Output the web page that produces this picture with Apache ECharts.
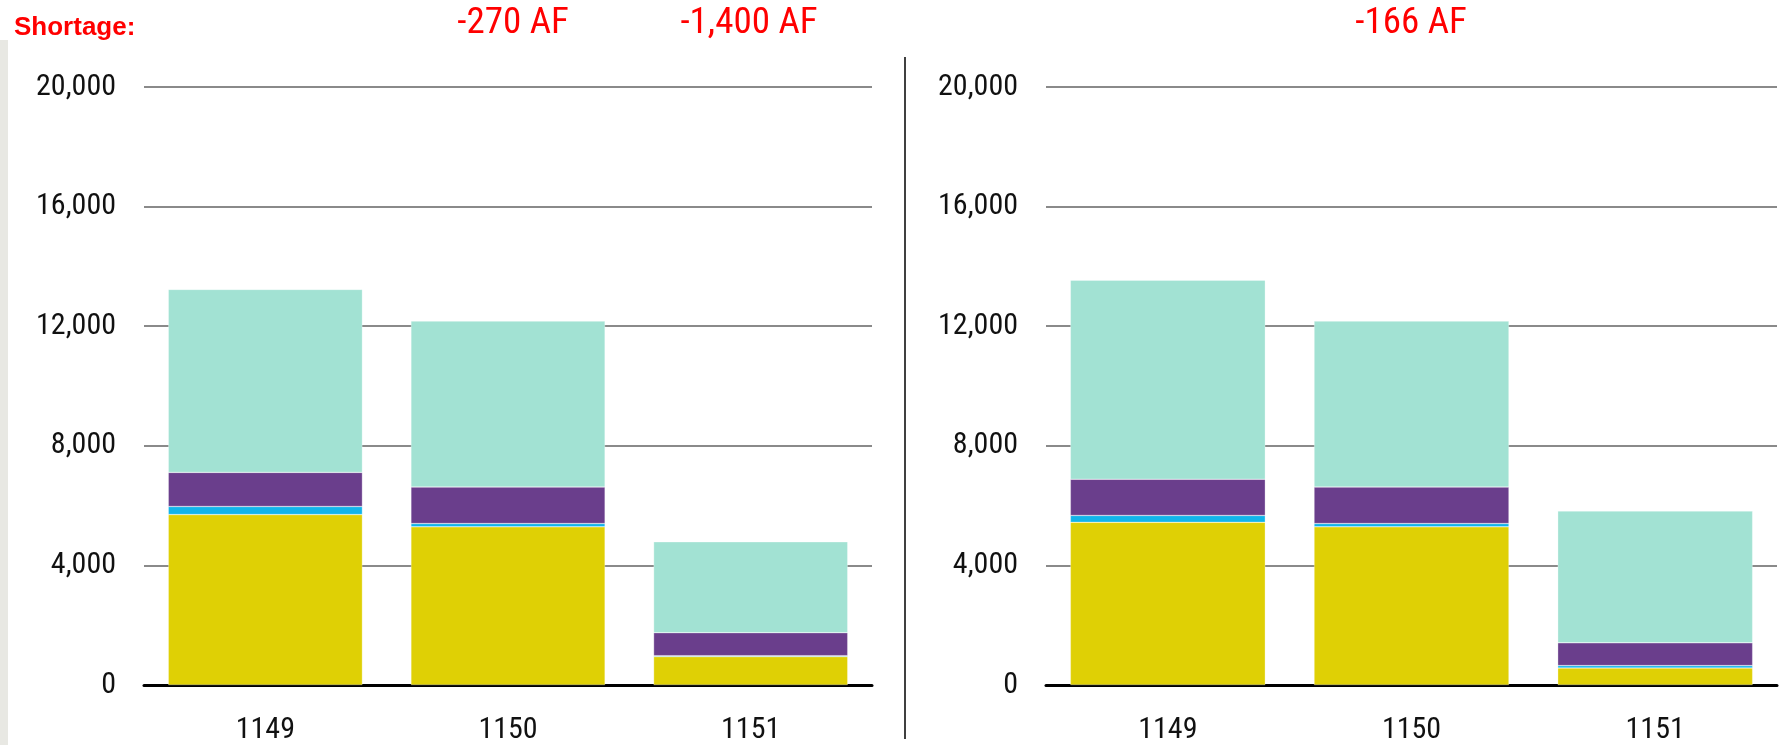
<!DOCTYPE html>
<html><head><meta charset="utf-8">
<script src="https://cdn.jsdelivr.net/npm/echarts@6/dist/echarts.min.js"></script>
<style>html,body{margin:0;padding:0;background:#fff}#c{width:1790px;height:745px}</style>
</head><body><div id="c"></div>
<script>
const categories = ['1149', '1150', '1151'];
const yTicks = [0, 4000, 8000, 12000, 16000, 20000];
// Left panel
const leftYellow = [5700, 5290, 950];
const leftBlue   = [270, 110, 30];
const leftPurple = [1140, 1220, 770];
const leftTeal   = [6120, 5550, 3040];
// Right panel
const rightYellow = [5440, 5290, 570];
const rightBlue   = [230, 110, 80];
const rightPurple = [1210, 1220, 760];
const rightTeal   = [6660, 5550, 4410];
const shortageLabels = ['-270 AF', '-1,400 AF', '-166 AF'];

const colors = {yellow:'#DFD005', blue:'#12B4EA', purple:'#6A3E8C', teal:'#A2E2D3'};
const font = '"Liberation Sans Narrow", "Roboto Condensed", "DejaVu Sans Condensed", sans-serif';

const chart = echarts.init(document.getElementById('c'));
function yAxis(gi){
  return {type:'value', gridIndex:gi, min:0, max:20000, interval:4000,
    axisLabel:{fontFamily:font, fontSize:30, color:'#111', margin:28,
      formatter:v=>v.toLocaleString('en-US')},
    axisLine:{show:false}, axisTick:{show:false},
    splitLine:{lineStyle:{color:'#8a8a8a', width:2}}};
}
function xAxis(gi){
  return {type:'category', gridIndex:gi, data:categories,
    axisLine:{lineStyle:{color:'#000', width:3}}, axisTick:{show:false},
    axisLabel:{fontFamily:font, fontSize:30, color:'#111', margin:30}};
}
function bar(name, data, color, gi){
  return {type:'bar', name, data, stack:'s'+gi, xAxisIndex:gi, yAxisIndex:gi,
    barWidth:'80%', itemStyle:{color, borderColor:'rgba(255,255,255,0.6)', borderWidth:0.5}};
}
chart.setOption({
  animation:false,
  title:[
    {text:'Shortage:', left:9, top:10, textStyle:{color:'#ff0000', fontSize:26, fontWeight:'bold', fontFamily:'Liberation Sans, Arial, sans-serif'}},
    {text:shortageLabels[0], left:508, top:0, textAlign:'center', textStyle:{color:'#ff0000', fontSize:37, fontWeight:'normal', fontFamily:font}},
    {text:shortageLabels[1], left:744, top:0, textAlign:'center', textStyle:{color:'#ff0000', fontSize:37, fontWeight:'normal', fontFamily:font}},
    {text:shortageLabels[2], left:1406, top:0, textAlign:'center', textStyle:{color:'#ff0000', fontSize:37, fontWeight:'normal', fontFamily:font}}
  ],
  grid:[
    {left:144, right:918, top:87, bottom:56},
    {left:1046, right:13, top:87, bottom:56}
  ],
  xAxis:[xAxis(0), xAxis(1)],
  yAxis:[yAxis(0), yAxis(1)],
  series:[
    bar('yellow', leftYellow, colors.yellow, 0),
    bar('blue', leftBlue, colors.blue, 0),
    bar('purple', leftPurple, colors.purple, 0),
    bar('teal', leftTeal, colors.teal, 0),
    bar('yellow', rightYellow, colors.yellow, 1),
    bar('blue', rightBlue, colors.blue, 1),
    bar('purple', rightPurple, colors.purple, 1),
    bar('teal', rightTeal, colors.teal, 1)
  ],
  graphic:[
    {type:'rect', shape:{x:0, y:40, width:8, height:705}, style:{fill:'#e8e8e3'}, silent:true},
    {type:'line', shape:{x1:905, y1:57, x2:905, y2:739}, style:{stroke:'#000', lineWidth:1.5}, silent:true}
  ]
});
</script></body></html>
